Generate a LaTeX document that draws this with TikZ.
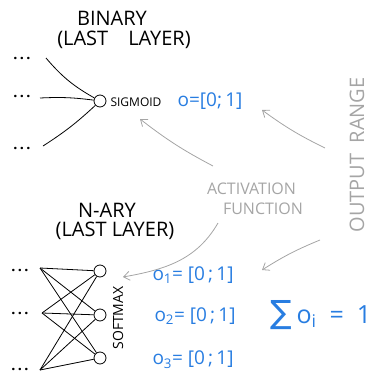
\documentclass[tikz,border=0pt]{standalone}
\usepackage{fontspec}
\setmainfont{Open Sans}
\newfontfamily\symfont{DejaVu Sans}
\usetikzlibrary{arrows.meta, positioning}
\definecolor{penblue}{RGB}{40,125,225}
\definecolor{pengray}{RGB}{165,165,165}

\begin{document}
\begin{tikzpicture}[x=1pt, y=-1pt,
    neuron/.style={draw, circle, thick, inner sep=0pt, minimum size=12pt},
    dots/.style={font=\Large\bfseries, inner sep=0pt},
    title/.style={font=\fontsize{20}{23}\selectfont, align=center},
    note/.style={text=pengray, font=\fontsize{16}{20}\selectfont, align=left},
    outtext/.style={text=penblue, font=\fontsize{19}{22}\selectfont},
    wire/.style={thick},
    pointer/.style={-{Straight Barb[length=6pt, width=9pt]}, pengray, thick}
]
    \useasboundingbox (0,0) rectangle (376,380);

    % Binary output layer
    \node[title] (bintitle) at (112,18) {BINARY};
    \node[title] (binlayer) at (124,40) {(LAST\quad LAYER)};
    \node[dots] (bdot0) at (22,58) {.\,.\,.};
    \node[dots] (bdot1) at (22,96) {.\,.\,.};
    \node[dots] (bdot2) at (22,148) {.\,.\,.};
    \coordinate (bin0) at (46,58);
    \coordinate (bin1) at (40,98);
    \coordinate (bin2) at (43,146);
    \node[neuron] (sig) at (100,101) {};
    \draw[wire] (bin0) to[bend right=10] (sig);
    \draw[wire] (bin1) to[bend left=5] (sig);
    \draw[wire] (bin2) to[bend right=5] (sig);
    \node[font=\fontsize{12}{14}\selectfont] (sigmoid) at (136,102) {SIGMOID};
    \node[outtext] (brange) at (210,101) {o=[0;\,1]};

    % Labels in gray
    \node[note] (actfun) at (255,199) {ACTIVATION\\\hspace*{16pt}FUNCTION};
    \node[note, rotate=90, font=\fontsize{20}{24}\selectfont] (outrange) at (357,155) {OUTPUT\ \ RANGE};

    % N-ary output layer
    \node[title] (nartitle) at (107,210) {N-ARY};
    \node[title] (narlayer) at (115,231) {(LAST LAYER)};
    \node[dots] (ndot0) at (20,270) {.\,.\,.};
    \node[dots] (ndot1) at (20,313) {.\,.\,.};
    \node[dots] (ndot2) at (20,369) {.\,.\,.};
    \coordinate (nin0) at (40,268);
    \coordinate (nin1) at (42,313);
    \coordinate (nin2) at (40,370);
    \node[neuron] (out0) at (100,271) {};
    \node[neuron] (out1) at (100,315) {};
    \node[neuron] (out2) at (100,358) {};
    \foreach \i in {0,1,2}
        \foreach \j in {0,1,2}
            \draw[wire] (nin\i) -- (out\j);
    \node[rotate=90, font=\fontsize{14}{16}\selectfont] (softmax) at (118,318) {SOFTMAX};
    \node[outtext] (nrange0) at (193,275) {o\textsubscript{1}= [0\,;\,1]};
    \node[outtext] (nrange1) at (195,316) {o\textsubscript{2}= [0\,;\,1]};
    \node[outtext] (nrange2) at (193,360) {o\textsubscript{3}= [0\,;\,1]};
    \node[outtext, font=\fontsize{25}{28}\selectfont] (sumrule) at (321,315) {{\symfont\fontsize{32}{32}\selectfont ∑}\,o\textsubscript{i}\ \ =\ \ 1};

    % Pointers
    \coordinate (actstart) at (213,166);
    \coordinate (actend) at (218,223);
    \coordinate (rngstart) at (325,148);
    \coordinate (rngend) at (320,240);
    \draw[pointer] (actstart) to[bend left=5] (140,119);
    \draw[pointer] (rngstart) to[bend left=5] (262,110);
    \draw[pointer] (actend) to[out=240, in=10] (123,277);
    \draw[pointer] (rngend) to[bend right=5] (262,270);
\end{tikzpicture}
\end{document}
